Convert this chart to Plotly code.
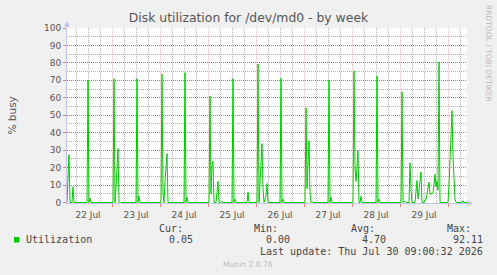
import pandas as pd
import plotly.graph_objects as go

# ---- data (hours since 2026-07-22 00:00, % busy) ----
hours = [1.5, 2.0, 2.5, 3.0, 4.0, 4.5, 5.0,
         11.5, 12.0, 12.5, 13.0, 13.5,
         24.5, 25.0, 25.5, 26.0, 26.5, 27.0, 27.5, 28.0, 28.5,
         36.0, 36.5, 37.0, 37.5, 38.0,
         48.5, 49.0, 49.5, 50.0, 50.5, 51.0, 51.5, 52.0,
         60.0, 60.5, 61.0, 61.5, 62.0,
         72.5, 73.0, 73.5, 74.0, 74.5, 75.0, 76.0, 76.5, 77.0, 77.5, 78.5, 79.0, 79.5,
         84.0, 84.5, 85.0, 85.5, 86.0,
         91.5, 92.0, 92.5,
         96.5, 97.0, 97.5, 98.0, 98.5, 99.0, 99.5, 100.0, 101.0, 101.5, 102.0,
         108.0, 108.5, 109.0, 109.5, 110.0,
         120.5, 121.0, 121.5, 122.0, 122.5, 123.0, 123.5, 124.0, 124.5,
         132.0, 132.5, 133.0, 133.5, 134.0,
         144.5, 145.0, 145.5, 146.0, 146.5, 147.0, 147.5, 148.0, 148.5, 149.0,
         156.0, 156.5, 157.0, 157.5, 158.0,
         168.5, 169.0, 169.5, 170.5, 171.0,
         172.5, 173.0, 173.5, 174.0, 175.5, 176.0, 176.5, 177.0, 177.5, 178.0, 178.5, 179.0,
         180.0, 180.5, 181.0, 181.5, 182.0, 182.5, 183.0, 183.5, 184.0, 184.5, 185.0,
         185.5, 186.0, 186.5, 187.0, 187.5, 188.0,
         192.0, 192.5, 193.0, 193.5, 194.0, 194.5, 195.0, 195.5, 196.0,
         199.0, 199.5, 200.0, 201.5]
utilization = [0.0, 12.0, 27.4, 0.0, 0.0, 9.0, 0.0,
               0.0, 70.0, 0.0, 2.5, 0.0,
               0.0, 71.0, 0.0, 8.0, 20.0, 30.9, 0.0, 0.6, 0.0,
               0.0, 71.0, 0.0, 3.6, 0.0,
               0.0, 73.7, 5.0, 0.0, 12.0, 20.0, 28.0, 0.0,
               0.0, 74.3, 0.0, 3.0, 0.0,
               0.0, 61.0, 5.0, 21.7, 23.6, 0.0, 0.0, 8.0, 12.2, 0.0, 0.0, 0.8, 0.0,
               0.0, 71.0, 0.0, 2.0, 0.0,
               0.0, 5.9, 0.0,
               0.0, 79.4, 0.0, 10.0, 22.0, 33.7, 8.0, 0.0, 4.0, 10.9, 0.0,
               0.0, 71.2, 0.0, 2.0, 0.0,
               0.0, 54.3, 8.0, 20.0, 35.4, 6.0, 0.0, 0.7, 0.0,
               0.0, 70.3, 0.0, 3.0, 0.0,
               0.0, 75.4, 20.0, 12.0, 20.0, 29.7, 0.0, 0.0, 3.6, 0.0,
               0.0, 72.6, 0.0, 2.0, 0.0,
               0.0, 63.4, 0.0, 0.7, 0.0,
               0.0, 22.7, 8.0, 0.0, 0.0, 6.0, 12.6, 2.0, 6.0, 12.0, 17.5, 0.0,
               0.0, 1.5, 1.5, 4.0, 8.0, 11.6, 4.6, 5.0, 5.5, 5.5, 10.0,
               16.2, 9.0, 12.0, 7.0, 80.6, 0.0,
               0.0, 10.0, 21.7, 35.0, 52.6, 26.5, 10.0, 2.0, 0.0,
               0.0, 1.0, 0.0, 0.05]

stat_labels = ["Cur:", "Min:", "Avg:", "Max:"]
stat_values = ["0.05", "0.00", "4.70", "92.11"]
series_name = "Utilization"
title = "Disk utilization for /dev/md0 - by week"
last_update = "Last update: Thu Jul 30 09:00:32 2026"

base = pd.Timestamp("2026-07-22 00:00")
times = base + pd.to_timedelta(hours, unit="h")

W, H = 497, 275
L, R, T, B = 67, 467, 28, 203


def px(x):
    return (x - L) / (R - L)


def py(y):
    return (B - y) / (B - T)


GREEN = "#00cc00"
MAJ_X = "rgba(230,130,130,0.55)"
MAJ_Y = "rgba(225,100,100,1.0)"
MIN = "rgba(170,170,170,0.9)"
AXIS = "#c4c4ee"
TXT = "#555555"
DOTS = "1px,1px"

fig = go.Figure()
fig.add_trace(go.Scatter(x=times, y=utilization, mode="lines",
                         line=dict(color=GREEN, width=1), hoverinfo="skip",
                         showlegend=False))

fig.update_layout(
    width=W, height=H,
    margin=dict(l=L, r=W - R, t=T, b=H - B),
    paper_bgcolor="#f0f0f0", plot_bgcolor="#ffffff",
    font=dict(family="DejaVu Sans", color=TXT, size=9),
    title=dict(text=title, x=0.5, xanchor="center", y=1 - 18 / H,
               yanchor="middle", font=dict(size=12.4, color=TXT)),
)
fig.update_xaxes(
    type="date",
    range=[base + pd.Timedelta(hours=1.5), base + pd.Timedelta(hours=201.5)],
    tick0="2026-07-22", dtick=86400000, tickformat="%d %b",
    ticklabelmode="period",
    showgrid=True, gridcolor=MAJ_X, griddash=DOTS, gridwidth=1,
    minor=dict(dtick=21600000, showgrid=True, gridcolor=MIN, griddash=DOTS),
    ticks="outside", ticklen=3, tickcolor="#e08080",
    showline=True, linecolor=AXIS, layer="below traces",
    zeroline=False, tickfont=dict(size=9, color=TXT),
)
fig.update_yaxes(
    range=[-0.3, 100.0], tick0=0, dtick=10,
    showgrid=True, gridcolor=MAJ_Y, griddash=DOTS, gridwidth=1,
    minor=dict(dtick=5, showgrid=True, gridcolor=MIN, griddash=DOTS),
    ticks="outside", ticklen=3, tickcolor="#e08080",
    showline=True, linecolor=AXIS, zeroline=False,
    tickfont=dict(size=9, color=TXT),
)

ann = []
ann.append(dict(text="% busy", x=px(11), y=py(115.5), textangle=-90,
                font=dict(size=10.5, color=TXT)))
ann.append(dict(text="RRDTOOL / TOBI OETIKER", x=px(488.5), y=py(53.5), textangle=90,
                font=dict(size=7.5, color="#bbbbbb")))
ann.append(dict(text="Munin 2.0.76", x=px(248), y=py(264),
                font=dict(size=7.6, color="#bbbbbb")))
MONO = dict(family="DejaVu Sans Mono", size=10, color="#444444")
ann.append(dict(text=series_name, x=px(26), y=py(239.5), xanchor="left", font=MONO))
label_left = [159, 254, 351, 447]
value_right = [193, 290, 386, 483]
for lab, val, lx, vx in zip(stat_labels, stat_values, label_left, value_right):
    ann.append(dict(text=lab, x=px(lx), y=py(228.3), xanchor="left", font=MONO))
    ann.append(dict(text=val, x=px(vx), y=py(239.5), xanchor="right", font=MONO))
ann.append(dict(text=last_update, x=px(483), y=py(251), xanchor="right", font=MONO))
for a in ann:
    a.setdefault("xref", "paper")
    a.setdefault("yref", "paper")
    a.setdefault("showarrow", False)
    a.setdefault("borderpad", 0)
    a.setdefault("borderwidth", 0)
    a.setdefault("xanchor", "center")
    a.setdefault("yanchor", "middle")
fig.update_layout(annotations=ann)

shapes = [
    dict(type="rect", xref="paper", yref="paper", x0=px(14), x1=px(19.5),
         y0=py(242.5), y1=py(237), fillcolor=GREEN, line=dict(width=0)),
    dict(type="path", xref="paper", yref="paper",
         path=f"M {px(64)} {py(27)} L {px(70)} {py(27)} L {px(67)} {py(21)} Z",
         fillcolor=AXIS, line=dict(width=0)),
    dict(type="path", xref="paper", yref="paper",
         path=f"M {px(467)} {py(200)} L {px(467)} {py(206)} L {px(473)} {py(203)} Z",
         fillcolor=AXIS, line=dict(width=0)),
]
fig.update_layout(shapes=shapes)

fig.write_html("out.html")
